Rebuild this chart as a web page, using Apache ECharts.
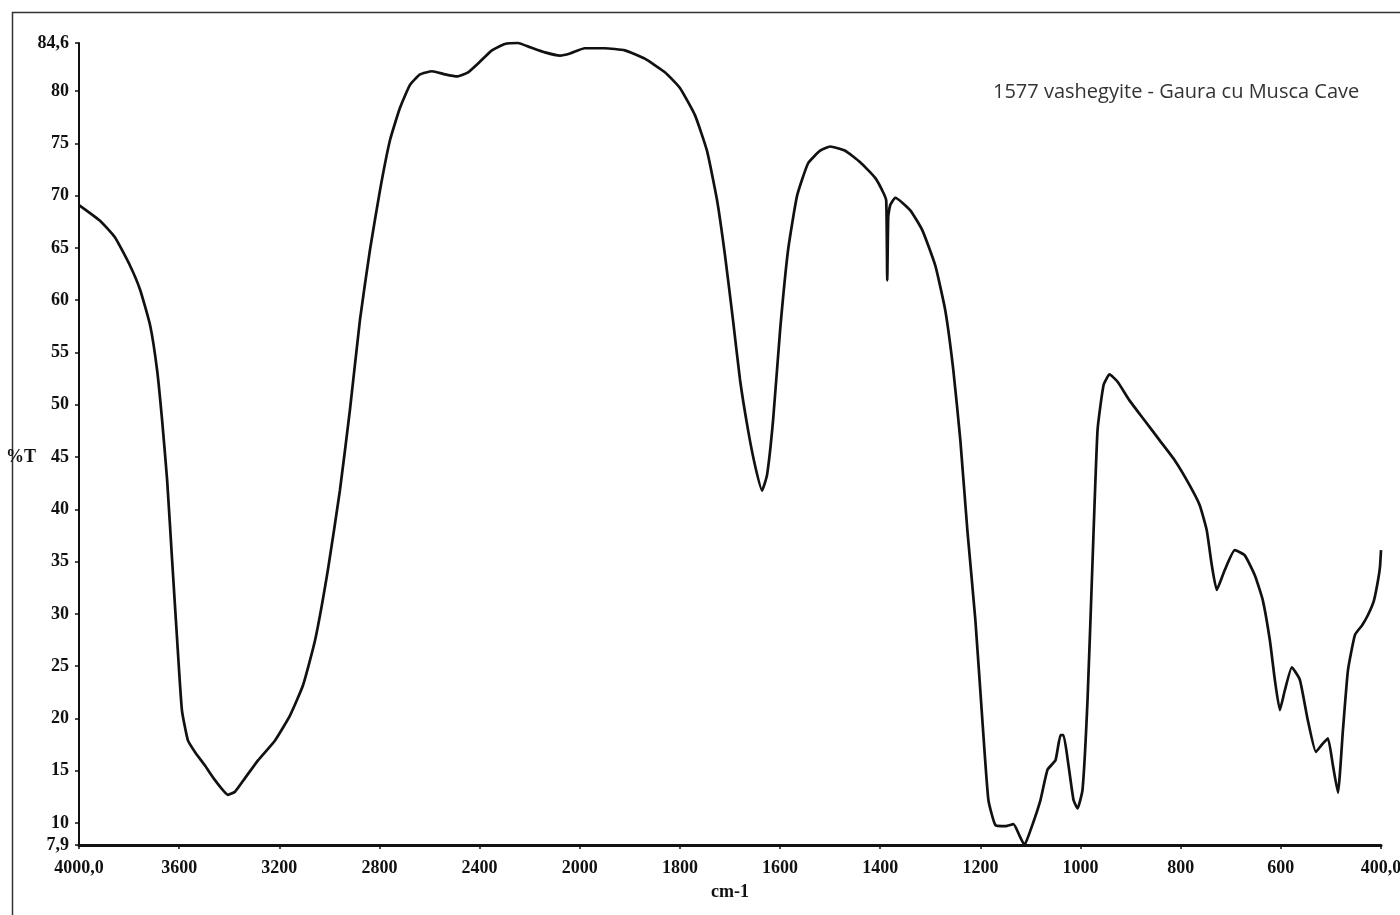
<!DOCTYPE html>
<html>
<head>
<meta charset="utf-8">
<script src="https://cdn.jsdelivr.net/npm/echarts@6/dist/echarts.min.js"></script>
<style>
html,body{margin:0;padding:0;background:#fff;}
#chart{width:1400px;height:915px;}
</style>
</head>
<body>
<div id="chart"></div>
<script>
// wavenumbers (cm-1), decreasing
const wavenumbers = [4000,3916,3856,3796,3756,3716,3688,3668,3648,3628,3608,3589,3565,3537,3497,3457,3405,3377,3337,3285,3217,3157,3105,3057,3006,2958,2918,2878,2838,2798,2758,2718,2678,2638,2590,2538,2490,2446,2399,2351,2299,2247,2199,2139,2079,2039,1990,1950,1910,1870,1830,1800,1770,1746,1726,1710,1694,1680,1664,1650,1636,1626,1614,1600,1584,1566,1544,1520,1500,1470,1440,1410,1394,1388,1386,1384,1380,1370,1340,1316,1290,1270,1254,1240,1226,1210,1196,1184,1170,1150,1134,1120,1112,1100,1080,1066,1050,1040,1034,1024,1014,1006,996,986,976,966,954,942,926,902,872,842,812,782,762,748,738,728,712,692,672,652,636,622,612,602,592,578,562,546,530,518,506,496,486,476,466,452,438,426,414,406,402,400];
// transmittance (%T)
const transmittance = [69.1,67.6,66.0,63.3,61.0,57.6,53.3,48.5,42.8,35.1,27.5,20.8,17.9,16.8,15.5,14.1,12.7,13.0,14.3,16.0,17.9,20.3,23.2,27.5,34.2,41.8,49.5,58.1,64.8,70.5,75.3,78.4,80.6,81.6,81.9,81.6,81.4,81.8,82.8,83.9,84.5,84.6,84.2,83.7,83.4,83.6,84.1,84.1,83.9,83.1,81.8,80.3,77.7,74.3,69.6,64.3,58.1,52.4,47.6,44.2,41.8,43.3,48.5,57.1,64.8,70.0,73.1,74.3,74.7,74.3,73.2,71.7,70.3,69.5,61.9,68.0,69.1,69.8,68.6,66.7,63.3,59.0,53.3,46.6,38.0,29.4,19.8,12.2,9.8,9.7,9.9,8.6,7.9,9.3,12.2,15.1,16.0,18.4,18.4,15.5,12.2,11.4,13.2,21.8,35.1,47.6,51.9,52.9,52.2,50.4,48.5,46.6,44.7,42.3,40.4,38.0,34.7,32.3,34.2,36.1,35.6,33.7,31.3,27.5,23.7,20.8,22.7,24.9,23.7,19.8,16.8,17.5,18.1,15.5,12.9,18.9,24.6,28.0,28.9,29.9,31.3,33.2,34.5,36.1];
// axis tick labels
const xTickLabels = ['4000,0','3600','3200','2800','2400','2000','1800','1600','1400','1200','1000','800','600','400,0'];
const yTickValues = [7.9,10,15,20,25,30,35,40,45,50,55,60,65,70,75,80,84.6];

// Instrument scale: 400 cm-1 per division above 2000, 200 cm-1 per division below
function axisPos(w){ return w >= 2000 ? (4000 - w)/400 : 5 + (2000 - w)/200; }

const seriesData = wavenumbers.map((w,i)=>[axisPos(w), transmittance[i]]);
const labelFont = {fontFamily:'Liberation Serif', fontWeight:'bold', fontSize:18, color:'#111'};

const chart = echarts.init(document.getElementById('chart'), null, {renderer:'canvas'});
chart.setOption({
  backgroundColor:'#fff',
  animation:false,
  title:{
    text:'1577 vashegyite - Gaura cu Musca Cave',
    left:988, top:77,
    textStyle:{fontFamily:'Open Sans', fontWeight:'normal', fontSize:20, color:'#333'}
  },
  grid:{left:79, right:19, top:43, bottom:70, containLabel:false, outerBoundsMode:'none'},
  xAxis:{
    type:'value', min:0, max:13, interval:1,
    name:'cm-1', nameLocation:'middle', nameGap:38,
    nameTextStyle:labelFont,
    axisLine:{show:true, onZero:false, lineStyle:{color:'#111', width:3}},
    axisTick:{show:true, length:4, inside:false, lineStyle:{color:'#111', width:1.5}},
    axisLabel:{show:true, margin:14, hideOverlap:false, formatter:(v)=>xTickLabels[Math.round(v)] ?? '', ...labelFont},
    splitLine:{show:false}
  },
  yAxis:{
    type:'value', min:7.9, max:84.6,
    axisLine:{show:true, onZero:false, lineStyle:{color:'#111', width:2}},
    axisTick:{show:true, length:4, inside:false, customValues:yTickValues, lineStyle:{color:'#111', width:1.5}},
    axisLabel:{show:true, margin:10, customValues:yTickValues, formatter:(v)=>String(v).replace('.',','), ...labelFont},
    splitLine:{show:false}
  },
  graphic:[{
    type:'rect', left:10, top:10, z:-1, silent:true,
    shape:{width:1420, height:930},
    style:{fill:'none', stroke:'#333', lineWidth:1.5}
  },{
    type:'text', x:36, y:457, silent:true,
    style:{text:'%T', align:'right', verticalAlign:'middle', font:'bold 18px "Liberation Serif"', fill:'#111'}
  }],
  series:[{
    type:'line', data:seriesData, showSymbol:false, smooth:0.15,
    lineStyle:{color:'#111', width:2.7}, clip:false
  }]
});
</script>
</body>
</html>
